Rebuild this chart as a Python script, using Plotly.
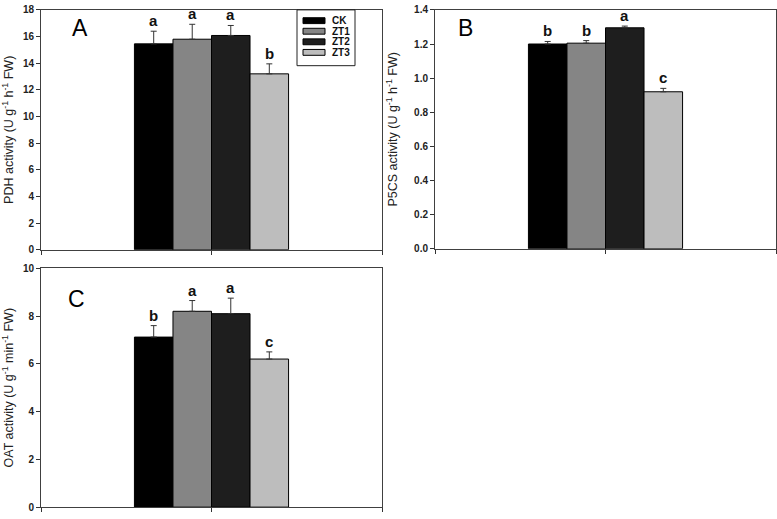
import plotly.graph_objects as go

W, H = 777, 519

treatments = ["CK", "ZT1", "ZT2", "ZT3"]
colors = ["#000000", "#858585", "#1e1e1e", "#bdbdbd"]

pdh_vals = [15.45, 15.8, 16.08, 13.2]
pdh_err = [0.95, 1.12, 0.75, 0.75]
pdh_letters = ["a", "a", "a", "b"]

p5cs_vals = [1.2, 1.205, 1.295, 0.92]
p5cs_err = [0.015, 0.015, 0.01, 0.02]
p5cs_letters = ["b", "b", "a", "c"]

oat_vals = [7.12, 8.2, 8.1, 6.2]
oat_err = [0.48, 0.45, 0.65, 0.3]
oat_letters = ["b", "a", "a", "c"]

panels = [
    dict(name="A", vals=pdh_vals, err=pdh_err, letters=pdh_letters,
         title="PDH activity (U g<sup>-1</sup> h<sup>-1</sup> FW)",
         yrange=[0, 18], dtick=2, fmt="d",
         px=(41, 382), py=(5, 250), label=(80, 23)),
    dict(name="B", vals=p5cs_vals, err=p5cs_err, letters=p5cs_letters,
         title="P5CS activity (U g<sup>-1</sup> h<sup>-1</sup> FW)",
         yrange=[0, 1.4], dtick=0.2, fmt=".1f",
         px=(435, 776), py=(5, 249), label=(465, 23)),
    dict(name="C", vals=oat_vals, err=oat_err, letters=oat_letters,
         title="OAT activity (U g<sup>-1</sup> min<sup>-1</sup> FW)",
         yrange=[0, 10], dtick=2, fmt="d",
         px=(41, 382), py=(269, 513), label=(76, 300)),
]

bar_w = 0.113  # fraction of the unit-wide category

fig = go.Figure()
annotations = []
shapes = []
layout = {}
FONT = "Arial, Liberation Sans, sans-serif"

for k, p in enumerate(panels):
    idx = "" if k == 0 else str(k + 1)
    xa, ya = "x" + idx, "y" + idx
    for i, t in enumerate(treatments):
        fig.add_trace(go.Bar(
            x=[(i - 1.5) * bar_w], y=[p["vals"][i]], width=bar_w,
            marker=dict(color=colors[i], line=dict(color="#000000", width=1)),
            error_y=dict(type="data", array=[p["err"][i]], arrayminus=[0],
                         symmetric=False, color="#333333", thickness=1, width=3),
            name=t, showlegend=False, xaxis=xa, yaxis=ya,
        ))
        annotations.append(dict(
            x=(i - 1.5) * bar_w, y=p["vals"][i] + p["err"][i], xref=xa, yref=ya,
            text="<b>" + p["letters"][i] + "</b>", showarrow=False, yanchor="bottom", yshift=0,
            font=dict(family=FONT, size=15, color="#111111"),
        ))
    layout["xaxis" + idx] = dict(
        domain=[p["px"][0] / W, p["px"][1] / W], range=[-0.5, 0.5],
        anchor=ya, showline=True, mirror=True, linecolor="#404040", linewidth=1,
        tickvals=[-0.5, 0, 0.5], showticklabels=False, ticks="outside",
        ticklen=4, tickcolor="#333333", showgrid=False, zeroline=False, fixedrange=True,
    )
    layout["yaxis" + idx] = dict(
        domain=[1 - p["py"][1] / H, 1 - p["py"][0] / H], range=p["yrange"],
        anchor=xa, showline=True, mirror=True, linecolor="#404040", linewidth=1,
        dtick=p["dtick"], tick0=0, tickformat=p["fmt"], ticks="outside", ticklen=4,
        tickcolor="#333333", showgrid=False, zeroline=False,
        tickfont=dict(family=FONT, size=10, color="#222222", weight="bold"),
        title=dict(text=p["title"], standoff=13,
                   font=dict(family=FONT, size=12.5, color="#222222")),
    )
    annotations.append(dict(
        x=p["label"][0] / W, y=1 - p["label"][1] / H, xref="paper", yref="paper",
        text=p["name"], showarrow=False, xanchor="center", yanchor="middle",
        font=dict(family=FONT, size=23, color="#000000"),
    ))

# legend box (panel A)
lx0, lx1, ly0, ly1 = 297, 355, 5, 62
shapes.append(dict(type="rect", xref="paper", yref="paper",
                   x0=lx0 / W, x1=lx1 / W, y0=1 - ly1 / H, y1=1 - ly0 / H,
                   line=dict(color="#222222", width=1), fillcolor="white"))
for i, t in enumerate(treatments):
    cy = 16 + i * 10.8
    shapes.append(dict(type="rect", xref="paper", yref="paper",
                       x0=303 / W, x1=325 / W, y0=1 - (cy + 3) / H, y1=1 - (cy - 3) / H,
                       line=dict(color="#000000", width=1), fillcolor=colors[i]))
    annotations.append(dict(
        x=330 / W, y=1 - cy / H, xref="paper", yref="paper", text="<b>" + t + "</b>",
        showarrow=False, xanchor="left", yanchor="middle",
        font=dict(family=FONT, size=10, color="#111111"),
    ))

fig.update_layout(
    width=W, height=H, margin=dict(l=0, r=0, t=0, b=0),
    paper_bgcolor="white", plot_bgcolor="white",
    barmode="overlay", showlegend=False,
    annotations=annotations, shapes=shapes, **layout,
)

fig.write_html("out.html", config={"displayModeBar": False},
               post_script="document.body.style.margin='0';document.body.style.overflow='hidden';")
